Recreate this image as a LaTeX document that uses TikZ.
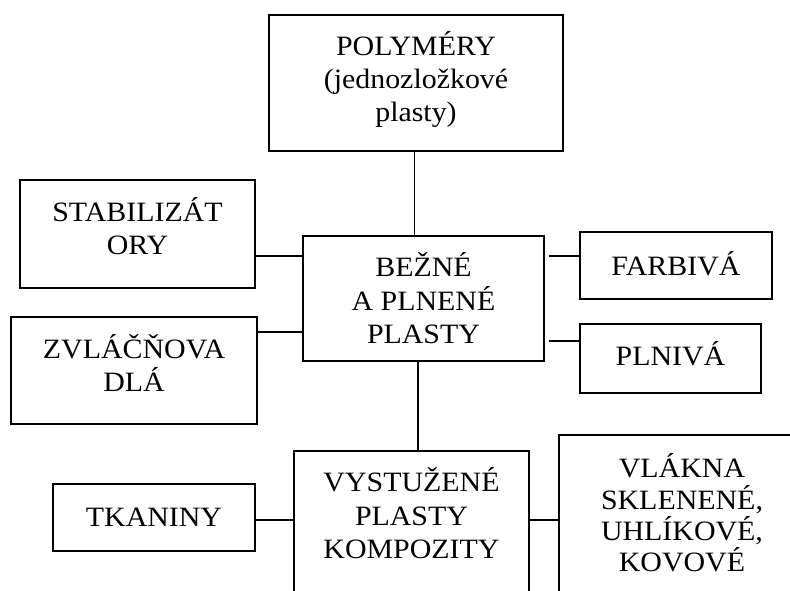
\documentclass[tikz,border=0pt]{standalone}
\usepackage{fontspec}
\setmainfont{Liberation Serif}[FakeStretch=1.068]
% fixes the height of the first line so that every label hangs from its top edge
\newcommand\topstrut{\rule{0pt}{26.5pt}}
\begin{document}
\begin{tikzpicture}[x=1pt,y=-1pt,
  box/.style={draw, rectangle, line width=1.7pt, inner sep=0pt},
  lbl/.style={anchor=north, inner sep=0pt, align=center,
              font=\fontsize{28}{33.3}\selectfont},
  link/.style={line width=1.7pt}]
\useasboundingbox (0,0) rectangle (790,590);
\fill[white] (0,0) rectangle (790,590);
\clip (0,0) rectangle (790,590);

% boxes
\node[box, minimum width=294pt, minimum height=136pt] (poly)  at (416,83)     {};
\node[box, minimum width=235pt, minimum height=108pt] (stab)  at (137.5,234)  {};
\node[box, minimum width=246pt, minimum height=107pt] (zvl)   at (134,370.5)  {};
\node[box, minimum width=241pt, minimum height=125pt] (mid)   at (423.5,298.5){};
\node[box, minimum width=192pt, minimum height=67pt]  (farb)  at (676,265.5)  {};
\node[box, minimum width=181pt, minimum height=69pt]  (plniv) at (670.5,358.5){};
\node[box, minimum width=202pt, minimum height=67pt]  (tkan)  at (154,517.5)  {};
\node[box, minimum width=235pt, minimum height=169pt] (vyst)  at (411.5,535.5){};
\node[box, minimum width=246pt, minimum height=185pt] (vlak)  at (682,527.5)  {};

% labels
\node[lbl] (poly-t)  at (416,28.5)   {\topstrut POLYMÉRY\\(jednozložkové\\plasty)};
\node[lbl] (stab-t)  at (137.5,194.5){\topstrut STABILIZÁT\\ORY};
\node[lbl] (zvl-t)   at (134,331.8)  {\topstrut ZVLÁČŇOVA\\DLÁ};
\node[lbl] (mid-t)   at (423.5,250.2){\topstrut BEŽNÉ\\A PLNENÉ\\PLASTY};
\node[lbl] (farb-t)  at (676,248.5)  {\topstrut FARBIVÁ};
\node[lbl] (plniv-t) at (670.5,339)  {\topstrut PLNIVÁ};
\node[lbl] (tkan-t)  at (154,500.2)  {\topstrut TKANINY};
\node[lbl] (vyst-t)  at (411.5,465.2){\topstrut VYSTUŽENÉ\\PLASTY\\KOMPOZITY};
\node[lbl, font=\fontsize{28}{31.3}\selectfont] (vlak-t) at (682,451.2)
  {\topstrut VLÁKNA\\SKLENENÉ,\\UHLÍKOVÉ,\\KOVOVÉ};

% levels of the connectors
\coordinate (xtop) at (414.5,0);
\coordinate (xbot) at (418.3,0);
\coordinate (ystab) at (0,256);
\coordinate (yzvl) at (0,332);
\coordinate (yfarb) at (0,256);
\coordinate (yplniv) at (0,341);
\coordinate (ylow) at (0,520);

% connectors
\draw[link] (poly.south -| xtop) -- (mid.north -| xtop);
\draw[link] (mid.south -| xbot) -- (vyst.north -| xbot);
\draw[link] (stab.east |- ystab) -- (mid.west |- ystab);
\draw[link] (zvl.east |- yzvl) -- (mid.west |- yzvl);
\draw[link, shorten <=4pt] (mid.east |- yfarb) -- (farb.west |- yfarb);
\draw[link, shorten <=4pt] (mid.east |- yplniv) -- (plniv.west |- yplniv);
\draw[link] (tkan.east |- ylow) -- (vyst.west |- ylow);
\draw[link] (vyst.east |- ylow) -- (vlak.west |- ylow);
\end{tikzpicture}
\end{document}
